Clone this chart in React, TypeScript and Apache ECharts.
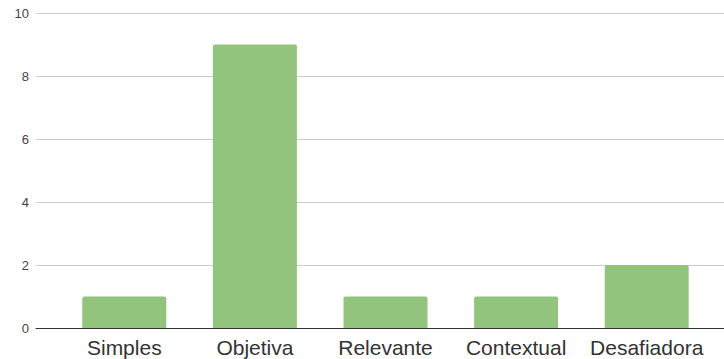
import React, { useEffect, useRef } from "react";
import * as echarts from "echarts";

const categories = ["Simples", "Objetiva", "Relevante", "Contextual", "Desafiadora"];
const values = [1, 9, 1, 1, 2];
const yMin = 0;
const yMax = 10;
const yInterval = 2;

export default function App() {
  const ref = useRef<HTMLDivElement>(null);
  useEffect(() => {
    if (!ref.current) return;
    const chart = echarts.init(ref.current, null, { renderer: "svg" });
    chart.setOption({
      animation: false,
      backgroundColor: "#ffffff",
      grid: [
        { left: 36, right: 0, top: 13, bottom: 31 },
        { left: 59, right: 12, top: 13, bottom: 31 },
      ],
      xAxis: [
        {
          gridIndex: 0,
          type: "category",
          data: [""],
          axisLine: { show: true, lineStyle: { color: "#333333", width: 1 } },
          axisTick: { show: false },
          axisLabel: { show: false },
        },
        {
          gridIndex: 1,
          type: "category",
          data: categories,
          axisLine: { show: false },
          axisTick: { show: false },
          axisLabel: {
            color: "#333333",
            fontSize: 21,
            fontFamily: "'Liberation Sans', Arial, sans-serif",
            margin: 9,
            interval: 0,
          },
        },
      ],
      yAxis: [
        {
          gridIndex: 0,
          type: "value",
          min: yMin,
          max: yMax,
          interval: yInterval,
          axisLine: { show: false },
          axisTick: { show: false },
          axisLabel: {
            color: "#444444",
            fontSize: 13,
            fontFamily: "'Liberation Sans', Arial, sans-serif",
            margin: 7,
          },
          splitLine: { lineStyle: { color: "#cccccc", width: 1 } },
        },
        {
          gridIndex: 1,
          type: "value",
          min: yMin,
          max: yMax,
          interval: yInterval,
          show: false,
          splitLine: { show: false },
        },
      ],
      series: [
        {
          type: "bar",
          xAxisIndex: 1,
          yAxisIndex: 1,
          data: values,
          barWidth: 84,
          itemStyle: { color: "#93c47d", borderRadius: [2, 2, 0, 0] },
          z: 3,
        },
      ],
    });
    return () => chart.dispose();
  }, []);
  return (
    <div
      ref={ref}
      style={{ position: "fixed", left: 0, top: 0, width: 724, height: 359 }}
    />
  );
}
